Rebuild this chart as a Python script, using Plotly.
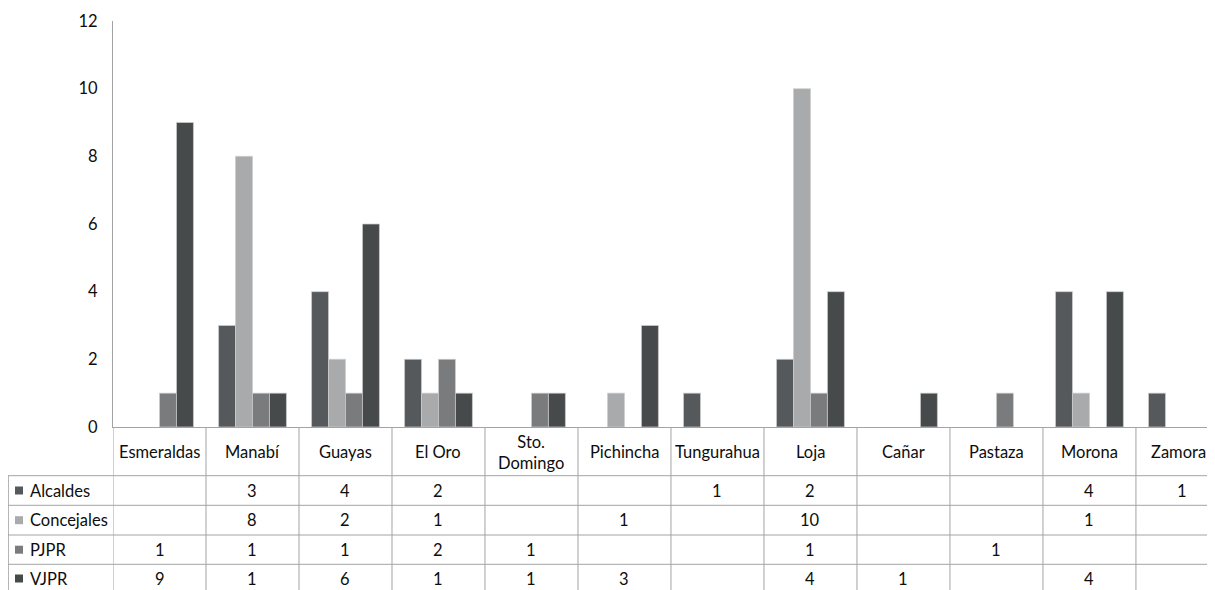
import plotly.graph_objects as go

categories = ["Esmeraldas", "Manabí", "Guayas", "El Oro", "Sto.<br>Domingo", "Pichincha",
              "Tungurahua", "Loja", "Cañar", "Pastaza", "Morona", "Zamora"]
alcaldes   = [None, 3, 4, 2, None, None, 1, 2, None, None, 4, 1]
concejales = [None, 8, 2, 1, None, 1, None, 10, None, None, 1, None]
pjpr       = [1, 1, 1, 2, 1, None, None, 1, None, 1, None, None]
vjpr       = [9, 1, 6, 1, 1, 3, None, 4, 1, None, 4, None]
series_names = ["Alcaldes", "Concejales", "PJPR", "VJPR"]
y_ticks = [0, 2, 4, 6, 8, 10, 12]

series_values = [alcaldes, concejales, pjpr, vjpr]
colors = ["#55595c", "#a9aaab", "#7a7b7d", "#474a4b"]

# page has an 8px body margin: figure-local coords = page coords - 8
OFF = 8
W, H = 1207, 590
ML, MR, MT = 113 - OFF, 0, 21 - OFF
PLOT_BOTTOM = 427 - OFF
MB = H - PLOT_BOTTOM
PW, PH = W - ML - MR, H - MT - MB
FONT = "Lato"
FS = 16.5
TXT = "#0d0d0d"
GRID = "#a3a3a3"


def ypaper(py):
    """page pixel y -> paper coordinate"""
    return (PLOT_BOTTOM - (py - OFF)) / PH


def xpaper(px):
    """page pixel x -> paper coordinate"""
    return ((px - OFF) - ML) / PW


x_idx = list(range(len(categories)))
fig = go.Figure()
for name, vals, col in zip(series_names, series_values, colors):
    fig.add_trace(go.Bar(
        x=x_idx, y=vals, name=name,
        marker=dict(color=col, line=dict(color="rgba(205,205,205,0.9)", width=0.8)),
        showlegend=False,
    ))

shapes = []
annotations = []

# horizontal table lines
row_lines = [475.7, 505.3, 535.0, 564.3]
for py in row_lines:
    shapes.append(dict(type="line", xref="paper", yref="paper",
                       x0=xpaper(8), x1=1.0, y0=ypaper(py), y1=ypaper(py),
                       line=dict(color=GRID, width=1)))
# vertical lines at category boundaries
for k in range(len(categories)):
    xb = k - 0.5
    shapes.append(dict(type="line", xref="x", yref="paper",
                       x0=xb, x1=xb, y0=0, y1=ypaper(600),
                       line=dict(color=GRID, width=1)))
# left border of the legend column
shapes.append(dict(type="line", xref="paper", yref="paper",
                   x0=xpaper(8.3), x1=xpaper(8.3), y0=ypaper(row_lines[0]), y1=ypaper(600),
                   line=dict(color=GRID, width=1)))

# header labels
last = len(categories) - 1
for i, c in enumerate(categories):
    annotations.append(dict(xref="x", yref="paper", x=i, y=ypaper(452),
                            text=c, showarrow=False, xanchor="center", yanchor="middle",
                            xshift=-4 if i == last else 0,
                            font=dict(family=FONT, size=FS, color=TXT)))

# rows
row_centers = [490.5, 520.2, 549.7, 578.5]
for r, (name, vals, col) in enumerate(zip(series_names, series_values, colors)):
    yc = row_centers[r]
    shapes.append(dict(type="rect", xref="paper", yref="paper",
                       x0=xpaper(15), x1=xpaper(23), y0=ypaper(yc + 4), y1=ypaper(yc - 4),
                       fillcolor=col, line=dict(width=0)))
    annotations.append(dict(xref="paper", yref="paper", x=xpaper(28), y=ypaper(yc),
                            text=name, showarrow=False, xanchor="left", yanchor="middle",
                            font=dict(family=FONT, size=FS, color=TXT)))
    for i, v in enumerate(vals):
        if v is not None:
            annotations.append(dict(xref="x", yref="paper", x=i, y=ypaper(yc),
                                    text=str(v), showarrow=False, xanchor="center", yanchor="middle",
                                    font=dict(family=FONT, size=FS, color=TXT)))

fig.update_layout(
    width=W, height=H,
    margin=dict(l=ML, r=MR, t=MT, b=MB, pad=0),
    paper_bgcolor="white", plot_bgcolor="white",
    barmode="group", bargap=0.27, bargroupgap=0,
    shapes=shapes, annotations=annotations,
    font=dict(family=FONT, size=FS, color=TXT),
    xaxis=dict(type="linear", range=[-0.5, 11.35], showticklabels=False, showgrid=False,
               zeroline=False, showline=True, linecolor=GRID, linewidth=1, ticks=""),
    yaxis=dict(range=[0, 12], tickvals=y_ticks, showgrid=False, zeroline=False,
               showline=True, linecolor=GRID, linewidth=1, ticks="",
               ticklabelstandoff=11, tickfont=dict(family=FONT, size=FS, color=TXT)),
)

fig.write_html("out.html")
